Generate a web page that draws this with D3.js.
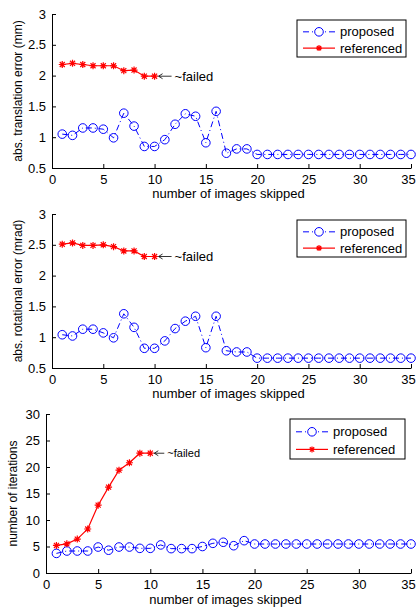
<!DOCTYPE html>
<html>
<head>
<meta charset="utf-8">
<script src="https://cdn.jsdelivr.net/npm/d3@7"></script>
<style>
  body { margin: 0; background: #fff; }
  svg { font-family: "Liberation Sans", Arial, sans-serif; }
  .tick text { font-size: 13px; fill: #000; }
</style>
</head>
<body>
<div id="chart"></div>
<script>
var width = 417, height = 610;

// x values: number of images skipped
var skipped = d3.range(1, 36);
var skippedRef = d3.range(1, 11);

// panel 1: translation error (mm)
var transProposed = [1.05,1.03,1.15,1.15,1.13,0.99,1.39,1.18,0.85,0.85,0.96,1.21,1.38,1.34,0.91,1.42,0.74,0.81,0.81,
    0.72,0.72,0.72,0.72,0.72,0.72,0.72,0.72,0.72,0.72,0.72,0.72,0.72,0.72,0.72,0.72];
var transRef = [2.18,2.2,2.18,2.16,2.16,2.16,2.08,2.09,1.99,1.99];

// panel 2: rotational error (mrad)
var rotProposed = [1.04,1.02,1.13,1.13,1.07,0.99,1.38,1.16,0.82,0.82,0.94,1.14,1.26,1.34,0.83,1.34,0.78,0.76,0.76,
    0.66,0.66,0.66,0.66,0.66,0.66,0.66,0.66,0.66,0.66,0.66,0.66,0.66,0.66,0.66,0.66];
var rotRef = [2.51,2.53,2.49,2.49,2.5,2.47,2.4,2.4,2.31,2.31];

// panel 3: number of iterations
var iterProposed = [3.7,4.15,4.15,4.15,4.9,4.3,4.9,4.9,4.65,4.65,5.3,4.6,4.6,4.6,5.0,5.6,5.8,5.15,6.1,
    5.47,5.47,5.47,5.47,5.47,5.47,5.47,5.47,5.47,5.47,5.47,5.47,5.47,5.47,5.47,5.47];
var iterRef = [5.2,5.5,6.4,8.3,12.8,16.2,19.4,20.8,22.6,22.6];

var xTicks = [0,5,10,15,20,25,30,35];
var errTicks = [0.5,1,1.5,2,2.5,3];
var iterTicks = [0,5,10,15,20,25,30];
var legendLabels = ["proposed", "referenced"];

var svg = d3.select("#chart").append("svg")
    .attr("width", width)
    .attr("height", height);

var panels = [
  {left: 52, top: 14, bottom: 168, ydom: [0.5, 3], yticks: errTicks, fmt: d3.format("~g"),
   ylabel: "abs. translation error (mm)", ylx: 18, prop: transProposed, ref: transRef,
   legend: {x: 297, y: 20, w: 109, h: 37}, failSize: 13, xlabY: 198},
  {left: 52, top: 214, bottom: 368, ydom: [0.5, 3], yticks: errTicks, fmt: d3.format("~g"),
   ylabel: "abs. rotational error (mrad)", ylx: 18, prop: rotProposed, ref: rotRef,
   legend: {x: 297, y: 220, w: 109, h: 37}, failSize: 13, xlabY: 398},
  {left: 46, top: 414, bottom: 573, ydom: [0, 30], yticks: iterTicks, fmt: d3.format("d"),
   ylabel: "number of iterations", ylx: 13, prop: iterProposed, ref: iterRef,
   legend: {x: 290, y: 419, w: 115, h: 40}, failSize: 11, xlabY: 604}
];

var right = 411;

panels.forEach(drawPanel);

function starPath(s) {
  var d = s * 0.72;
  return "M" + (-s) + ",0H" + s + "M0," + (-s) + "V" + s +
    "M" + (-d) + "," + (-d) + "L" + d + "," + d + "M" + (-d) + "," + d + "L" + d + "," + (-d);
}

function drawPanel(p) {
  var x = d3.scaleLinear().domain([0, 35]).range([p.left, right]);
  var y = d3.scaleLinear().domain(p.ydom).range([p.bottom, p.top]);

  var g = svg.append("g");

  g.append("g")
      .attr("transform", "translate(0," + p.bottom + ")")
      .call(d3.axisBottom(x).tickValues(xTicks).tickSizeInner(-4).tickSizeOuter(0).tickPadding(7))
      .call(function(a) {
        a.select(".domain").attr("stroke", "#000");
        // keep the last label inside the page, as in the original
        a.selectAll(".tick text").filter(function(d) { return d === 35; }).attr("dx", -3);
      });
  g.append("g")
      .attr("transform", "translate(" + p.left + ",0)")
      .call(d3.axisLeft(y).tickValues(p.yticks).tickFormat(p.fmt).tickSizeInner(-4).tickSizeOuter(0).tickPadding(6))
      .call(function(a) { a.select(".domain").attr("stroke", "#000"); });

  g.append("text")
      .attr("x", (p.left + right) / 2 - 3)
      .attr("y", p.xlabY)
      .attr("text-anchor", "middle")
      .style("font-size", "13px")
      .text("number of images skipped");

  g.append("text")
      .attr("transform", "translate(" + p.ylx + "," + ((p.top + p.bottom) / 2) + ") rotate(-90)")
      .attr("text-anchor", "middle")
      .attr("dy", "0.35em")
      .style("font-size", "12px")
      .text(p.ylabel);

  var line = d3.line()
      .x(function(d) { return x(d[0]); })
      .y(function(d) { return y(d[1]); });

  var prop = skipped.map(function(s, i) { return [s, p.prop[i]]; });
  var ref = skippedRef.map(function(s, i) { return [s, p.ref[i]]; });

  g.append("path").datum(prop)
      .attr("d", line).attr("fill", "none")
      .attr("stroke", "#0000ff").attr("stroke-width", 1)
      .attr("stroke-dasharray", "6,3,1,3");
  g.selectAll(".circ").data(prop).enter().append("circle")
      .attr("cx", function(d) { return x(d[0]); })
      .attr("cy", function(d) { return y(d[1]); })
      .attr("r", 4.3)
      .attr("fill", "none").attr("stroke", "#0000ff").attr("stroke-width", 1);

  g.append("path").datum(ref)
      .attr("d", line).attr("fill", "none")
      .attr("stroke", "#ff0000").attr("stroke-width", 1.2);
  g.selectAll(".star").data(ref).enter().append("path")
      .attr("transform", function(d) { return "translate(" + x(d[0]) + "," + y(d[1]) + ")"; })
      .attr("d", starPath(3.5))
      .attr("fill", "none").attr("stroke", "#ff0000").attr("stroke-width", 1.2);

  // "failed" annotation next to last referenced point
  var last = ref[ref.length - 1];
  var ax = x(last[0]) + 4, ay = y(last[1]);
  var alen = p.failSize > 11 ? 13 : 10;
  g.append("line")
      .attr("x1", ax).attr("y1", ay).attr("x2", ax + alen).attr("y2", ay)
      .attr("stroke", "#000").attr("stroke-width", 0.8);
  g.append("path")
      .attr("d", "M" + ax + "," + ay + "l4,-2.5M" + ax + "," + ay + "l4,2.5")
      .attr("stroke", "#000").attr("stroke-width", 0.8).attr("fill", "none");
  g.append("text")
      .attr("x", ax + alen + 3)
      .attr("y", ay)
      .attr("dy", "0.35em")
      .style("font-size", p.failSize + "px")
      .text("~failed");

  // legend
  var L = p.legend;
  var lg = g.append("g").attr("transform", "translate(" + L.x + "," + L.y + ")");
  lg.append("rect").attr("width", L.w).attr("height", L.h)
      .attr("fill", "#fff").attr("stroke", "#000").attr("stroke-width", 1);
  var rowY = [L.h * 0.32, L.h * 0.76];
  lg.append("line").attr("x1", 6).attr("x2", 38).attr("y1", rowY[0]).attr("y2", rowY[0])
      .attr("stroke", "#0000ff").attr("stroke-dasharray", "6,3,1,3");
  lg.append("circle").attr("cx", 22).attr("cy", rowY[0]).attr("r", 4.3)
      .attr("fill", "#fff").attr("stroke", "#0000ff");
  lg.append("line").attr("x1", 6).attr("x2", 38).attr("y1", rowY[1]).attr("y2", rowY[1])
      .attr("stroke", "#ff0000").attr("stroke-width", 1.2);
  lg.append("path").attr("transform", "translate(22," + rowY[1] + ")")
      .attr("d", starPath(3)).attr("fill", "none").attr("stroke", "#ff0000").attr("stroke-width", 1.2);
  lg.selectAll(".lt").data(legendLabels).enter().append("text")
      .attr("x", 43)
      .attr("y", function(d, i) { return rowY[i]; })
      .attr("dy", "0.35em")
      .style("font-size", "13px")
      .text(function(d) { return d; });
}
</script>
</body>
</html>
